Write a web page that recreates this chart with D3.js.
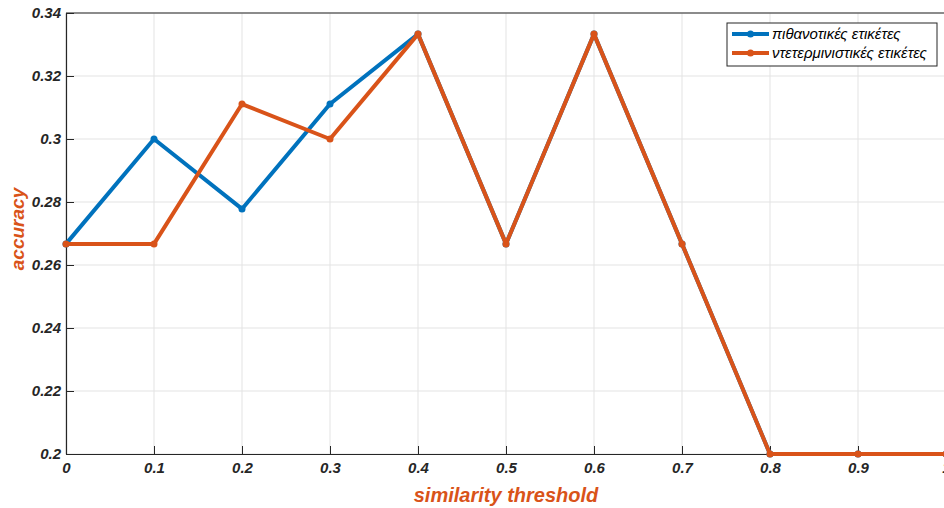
<!DOCTYPE html>
<html>
<head>
<meta charset="utf-8">
<script src="https://cdn.jsdelivr.net/npm/d3@7"></script>
<style>
  body { margin: 0; background: #fff; }
  text { font-family: "Liberation Sans", Arial, sans-serif; }
</style>
</head>
<body>
<script>
// data
var thresholds = [0, 0.1, 0.2, 0.3, 0.4, 0.5, 0.6, 0.7, 0.8, 0.9, 1];
var probLabels = [0.2667, 0.3, 0.2778, 0.3111, 0.3333, 0.2667, 0.3333, 0.2667, 0.2, 0.2, 0.2];
var detLabels = [0.2667, 0.2667, 0.3111, 0.3, 0.3333, 0.2667, 0.3333, 0.2667, 0.2, 0.2, 0.2];
var seriesNames = ["πιθανοτικές ετικέτες", "ντετερμινιστικές ετικέτες"];
var seriesColors = ["#0072BD", "#D95319"];
var xTicks = [0, 0.1, 0.2, 0.3, 0.4, 0.5, 0.6, 0.7, 0.8, 0.9, 1];
var yTicks = [0.2, 0.22, 0.24, 0.26, 0.28, 0.3, 0.32, 0.34];

var W = 944, H = 508;
var margin = {top: 13, right: -2, bottom: 54, left: 66};
var width = W - margin.left - margin.right,
    height = H - margin.top - margin.bottom;

var svg = d3.select("body").append("svg")
    .attr("width", W)
    .attr("height", H);

var g = svg.append("g")
    .attr("transform", "translate(" + margin.left + "," + margin.top + ")");

var x = d3.scaleLinear().domain([0, 1]).range([0, width]);
var y = d3.scaleLinear().domain([0.2, 0.34]).range([height, 0]);

// grid
g.selectAll("line.gx").data(xTicks).enter().append("line")
    .attr("x1", d => x(d)).attr("x2", d => x(d))
    .attr("y1", 0).attr("y2", height)
    .attr("stroke", "#e3e3e3").attr("stroke-width", 1);
g.selectAll("line.gy").data(yTicks).enter().append("line")
    .attr("y1", d => y(d)).attr("y2", d => y(d))
    .attr("x1", 0).attr("x2", width)
    .attr("stroke", "#e3e3e3").attr("stroke-width", 1);

// axes
var fmt = function(d) { return String(+d.toFixed(2)); };
var xAxis = g.append("g")
    .attr("transform", "translate(0," + height + ")")
    .call(d3.axisBottom(x).tickValues(xTicks).tickSizeInner(-8).tickSizeOuter(0).tickPadding(10).tickFormat(fmt));
var yAxis = g.append("g")
    .call(d3.axisLeft(y).tickValues(yTicks).tickSizeInner(-8).tickSizeOuter(0).tickPadding(5).tickFormat(fmt));

[xAxis, yAxis].forEach(function(a) {
  a.select(".domain").attr("stroke", "#262626").attr("stroke-width", 1.2);
  a.selectAll(".tick line").attr("stroke", "#262626");
  a.selectAll(".tick text")
    .attr("fill", "#262626")
    .style("font-size", "15px")
    .style("font-weight", "bold")
    .style("font-style", "italic")
    .style("font-family", "'Liberation Sans', Arial, sans-serif");
});
xAxis.selectAll(".tick text").attr("dy", "0.6em");

// top and right box lines
g.append("line").attr("x1", 0).attr("x2", width).attr("y1", 0).attr("y2", 0)
    .attr("stroke", "#262626").attr("stroke-width", 1.2);
g.append("line").attr("x1", width).attr("x2", width).attr("y1", 0).attr("y2", height)
    .attr("stroke", "#262626").attr("stroke-width", 1.2);

// lines
var line = d3.line()
    .x(function(d, i) { return x(thresholds[i]); })
    .y(function(d) { return y(d); });

[probLabels, detLabels].forEach(function(vals, k) {
  g.append("path")
    .datum(vals)
    .attr("fill", "none")
    .attr("stroke", seriesColors[k])
    .attr("stroke-width", 4)
    .attr("stroke-linejoin", "round")
    .attr("d", line);
  g.selectAll("circle.s" + k).data(vals).enter().append("circle")
    .attr("cx", function(d, i) { return x(thresholds[i]); })
    .attr("cy", function(d) { return y(d); })
    .attr("r", 3.5)
    .attr("fill", seriesColors[k]);
});

// axis labels
svg.append("text")
    .attr("x", margin.left + x(0.5))
    .attr("y", 502)
    .attr("text-anchor", "middle")
    .attr("fill", "#D95319")
    .style("font-size", "20px")
    .style("font-weight", "bold")
    .style("font-style", "italic")
    .text("similarity threshold");

svg.append("text")
    .attr("transform", "translate(24,229) rotate(-90)")
    .attr("text-anchor", "middle")
    .attr("fill", "#D95319")
    .style("font-size", "19px")
    .style("font-weight", "bold")
    .style("font-style", "italic")
    .text("accuracy");

// legend
var lg = svg.append("g").attr("transform", "translate(727,23)");
lg.append("rect")
    .attr("width", 210).attr("height", 43)
    .attr("fill", "#fff")
    .attr("stroke", "#262626").attr("stroke-width", 1);
seriesNames.forEach(function(name, k) {
  var yy = 11 + k * 19;
  lg.append("line").attr("x1", 5).attr("x2", 42).attr("y1", yy).attr("y2", yy)
    .attr("stroke", seriesColors[k]).attr("stroke-width", 4);
  lg.append("circle").attr("cx", 23.5).attr("cy", yy).attr("r", 3.5).attr("fill", seriesColors[k]);
  lg.append("text").attr("x", 45).attr("y", yy + 5)
    .attr("fill", "#000")
    .style("font-size", "15px")
    .style("font-style", "italic")
    .text(name);
});
</script>
</body>
</html>
